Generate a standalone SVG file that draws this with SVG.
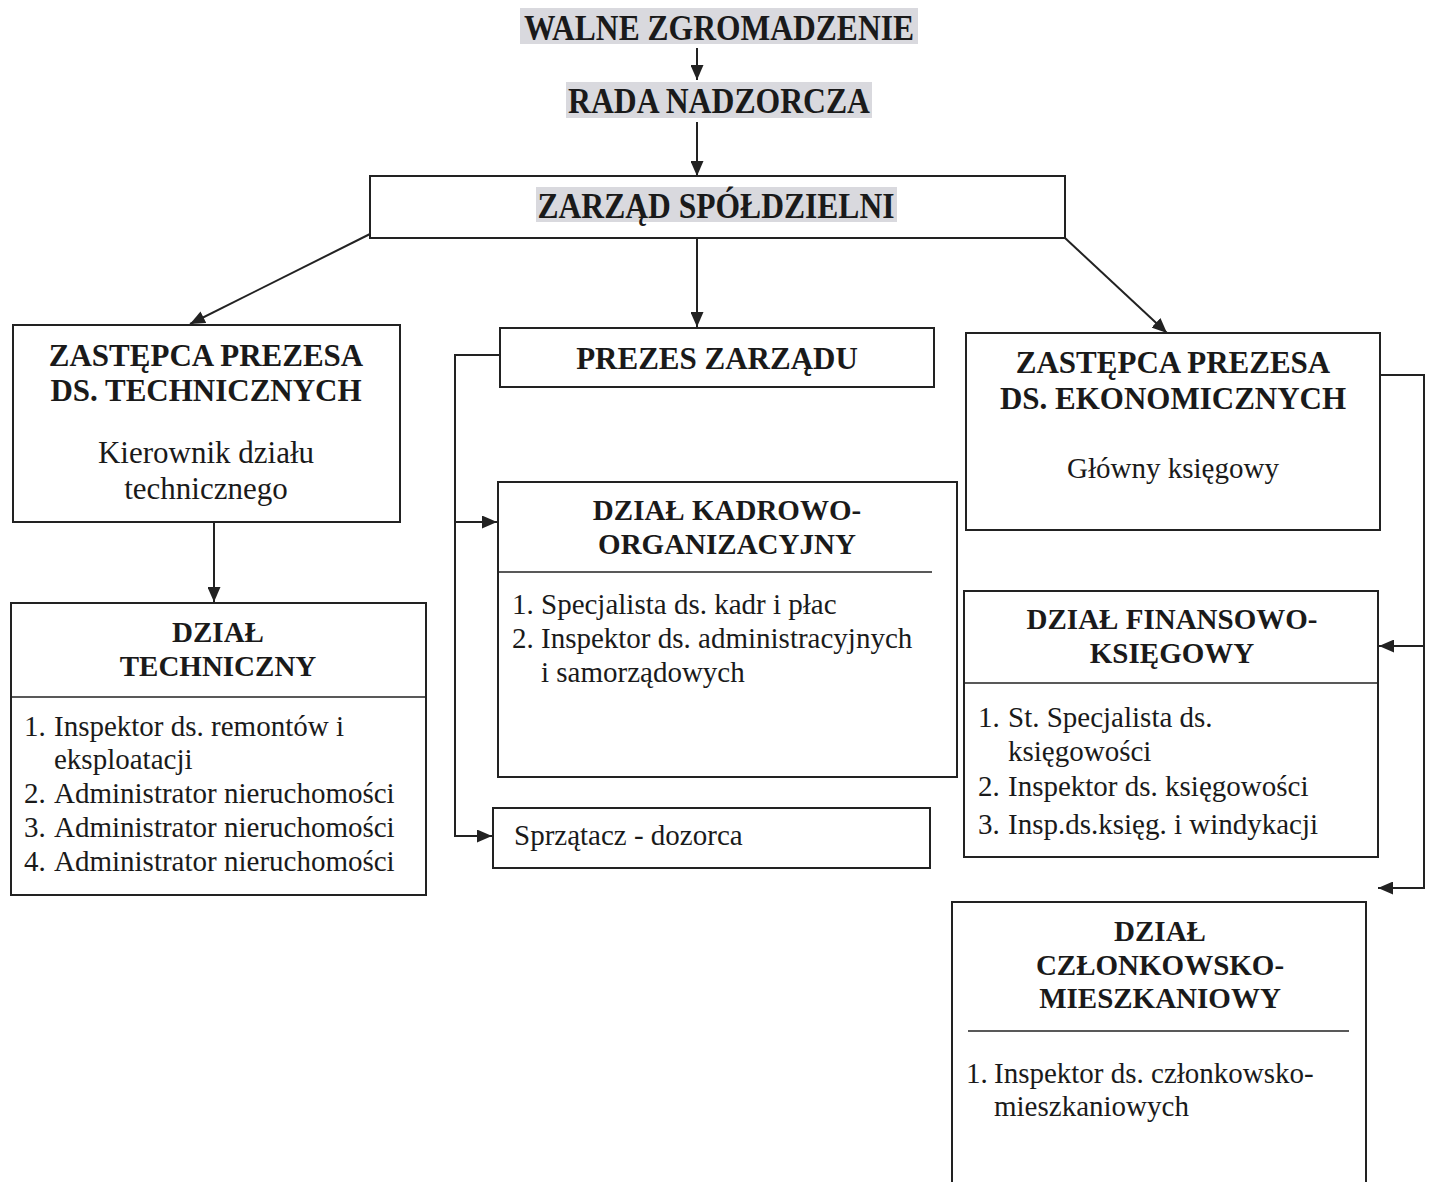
<svg xmlns="http://www.w3.org/2000/svg" width="1434" height="1182" viewBox="0 0 1434 1182">
<style>
.box{fill:#fff;stroke:#222;stroke-width:2}
.div{stroke:#222;stroke-width:1.6}
.hl{fill:#d9d9de}
.conn{fill:none;stroke:#222;stroke-width:2}
.t{font-family:"Liberation Serif","Times New Roman",serif;fill:#1a1a1a}
.b{font-weight:bold}
.title{font-size:36px;font-weight:bold}
.h31{font-size:31px}
.h29{font-size:29px}
.r29{font-size:29px}
.c{text-anchor:middle}
</style>
<defs>
<marker id="ah" markerUnits="userSpaceOnUse" markerWidth="15" markerHeight="13" refX="15" refY="6.5" orient="auto">
<path d="M0,0 L15,6.5 L0,13 z" fill="#222"/>
</marker>
</defs>
<rect width="1434" height="1182" fill="#fff"/>

<g id="walne">
<rect class="hl" x="520" y="8" width="398" height="36"/>
<text class="t title c" x="719" y="40" textLength="390" lengthAdjust="spacingAndGlyphs">WALNE ZGROMADZENIE</text>
</g>
<g id="rada">
<rect class="hl" x="566" y="82" width="306" height="36"/>
<text class="t title c" x="719" y="113" textLength="302" lengthAdjust="spacingAndGlyphs">RADA NADZORCZA</text>
</g>
<g id="zarzad">
<rect class="box" x="370" y="176" width="695" height="62"/>
<rect class="hl" x="536" y="187" width="361" height="35"/>
<text class="t title c" x="716" y="218" textLength="357" lengthAdjust="spacingAndGlyphs">ZARZĄD SPÓŁDZIELNI</text>
</g>

<g id="zast-tech">
<rect class="box" x="13" y="325" width="387" height="197"/>
<text class="t b h31 c" x="206" y="366">ZASTĘPCA PREZESA</text>
<text class="t b h31 c" x="206" y="401">DS. TECHNICZNYCH</text>
<text class="t h31 c" x="206" y="463">Kierownik działu</text>
<text class="t h31 c" x="206" y="499">technicznego</text>
</g>

<g id="dzial-tech">
<rect class="box" x="11" y="603" width="415" height="292"/>
<line class="div" x1="11" y1="697" x2="426" y2="697"/>
<text class="t b h29 c" x="218" y="642">DZIAŁ</text>
<text class="t b h29 c" x="218" y="676">TECHNICZNY</text>
<text class="t r29" x="24" y="736">1.</text>
<text class="t r29" x="54" y="736">Inspektor ds. remontów i</text>
<text class="t r29" x="54" y="769">eksploatacji</text>
<text class="t r29" x="24" y="803">2.</text>
<text class="t r29" x="54" y="803">Administrator nieruchomości</text>
<text class="t r29" x="24" y="837">3.</text>
<text class="t r29" x="54" y="837">Administrator nieruchomości</text>
<text class="t r29" x="24" y="871">4.</text>
<text class="t r29" x="54" y="871">Administrator nieruchomości</text>
</g>

<g id="prezes">
<rect class="box" x="500" y="328" width="434" height="59"/>
<text class="t b h31 c" x="717" y="369">PREZES ZARZĄDU</text>
</g>

<g id="kadrowo">
<rect class="box" x="498" y="482" width="459" height="295"/>
<line class="div" x1="498" y1="572" x2="932" y2="572"/>
<text class="t b h29 c" x="727" y="520">DZIAŁ KADROWO-</text>
<text class="t b h29 c" x="727" y="554">ORGANIZACYJNY</text>
<text class="t r29" x="512" y="614">1.</text>
<text class="t r29" x="541" y="614">Specjalista ds. kadr i płac</text>
<text class="t r29" x="512" y="648">2.</text>
<text class="t r29" x="541" y="648">Inspektor ds. administracyjnych</text>
<text class="t r29" x="541" y="682">i samorządowych</text>
</g>

<g id="sprzatacz">
<rect class="box" x="493" y="808" width="437" height="60"/>
<text class="t r29" x="514" y="845">Sprzątacz - dozorca</text>
</g>

<g id="zast-ekon">
<rect class="box" x="966" y="333" width="414" height="197"/>
<text class="t b h31 c" x="1173" y="373">ZASTĘPCA PREZESA</text>
<text class="t b h31 c" x="1173" y="409">DS. EKONOMICZNYCH</text>
<text class="t r29 c" x="1173" y="478">Główny księgowy</text>
</g>

<g id="finansowo">
<rect class="box" x="964" y="591" width="414" height="266"/>
<line class="div" x1="964" y1="683" x2="1378" y2="683"/>
<text class="t b h29 c" x="1172" y="629">DZIAŁ FINANSOWO-</text>
<text class="t b h29 c" x="1172" y="663">KSIĘGOWY</text>
<text class="t r29" x="978" y="727">1.</text>
<text class="t r29" x="1008" y="727">St. Specjalista ds.</text>
<text class="t r29" x="1008" y="761">księgowości</text>
<text class="t r29" x="978" y="796">2.</text>
<text class="t r29" x="1008" y="796">Inspektor ds. księgowości</text>
<text class="t r29" x="978" y="834">3.</text>
<text class="t r29" x="1008" y="834">Insp.ds.księg. i windykacji</text>
</g>

<g id="czlonkowsko">
<rect class="box" x="952" y="902" width="414" height="300"/>
<line class="div" x1="968" y1="1031" x2="1349" y2="1031"/>
<text class="t b h29 c" x="1160" y="941">DZIAŁ</text>
<text class="t b h29 c" x="1160" y="975">CZŁONKOWSKO-</text>
<text class="t b h29 c" x="1160" y="1008">MIESZKANIOWY</text>
<text class="t r29" x="966" y="1083">1.</text>
<text class="t r29" x="994" y="1083">Inspektor ds. członkowsko-</text>
<text class="t r29" x="994" y="1116">mieszkaniowych</text>
</g>

<g id="connectors">
<line class="conn" x1="697" y1="48" x2="697" y2="80" marker-end="url(#ah)"/>
<line class="conn" x1="697" y1="122" x2="697" y2="176" marker-end="url(#ah)"/>
<line class="conn" x1="370" y1="234" x2="190" y2="324" marker-end="url(#ah)"/>
<line class="conn" x1="697" y1="238" x2="697" y2="327" marker-end="url(#ah)"/>
<line class="conn" x1="1065" y1="238" x2="1167" y2="333" marker-end="url(#ah)"/>
<line class="conn" x1="214" y1="522" x2="214" y2="602" marker-end="url(#ah)"/>
<path class="conn" d="M500,355 H455 V836 H492" marker-end="url(#ah)"/>
<path class="conn" d="M455,522 H497" marker-end="url(#ah)"/>
<path class="conn" d="M1380,375 H1424 V888 H1378" marker-end="url(#ah)"/>
<path class="conn" d="M1424,646 H1379" marker-end="url(#ah)"/>
</g>
</svg>
